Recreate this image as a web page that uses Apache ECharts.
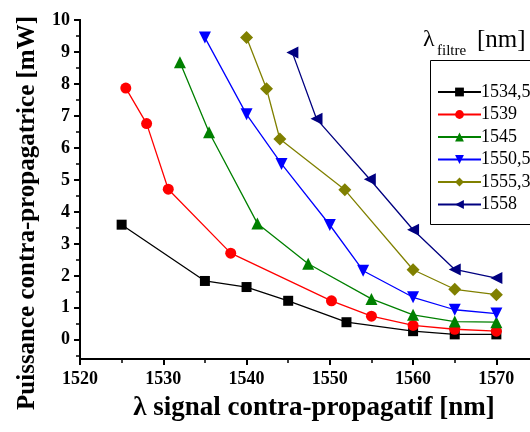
<!DOCTYPE html>
<html><head><meta charset="utf-8">
<script src="https://cdn.jsdelivr.net/npm/echarts@6/dist/echarts.min.js"></script>
<style>html,body{margin:0;padding:0;background:#fff}#c{width:530px;height:432px}</style>
</head><body><div id="c"></div>
<script>
var seriesNames = ['1534,5','1539','1545','1550,5','1555,3','1558'];
var x1534 = [1525, 1535, 1540, 1545, 1552, 1560, 1565, 1570];
var y1534 = [3.6, 1.84, 1.65, 1.22, 0.55, 0.27, 0.17, 0.17];
var x1539 = [1525.5, 1528, 1530.6, 1538.1, 1550.2, 1555, 1560, 1565, 1570];
var y1539 = [7.87, 6.76, 4.71, 2.71, 1.22, 0.74, 0.45, 0.33, 0.27];
var x1545 = [1532, 1535.5, 1541.3, 1547.4, 1555, 1560, 1565, 1570];
var y1545 = [8.68, 6.49, 3.64, 2.38, 1.28, 0.78, 0.57, 0.55];
var x1550 = [1535, 1540, 1544.2, 1550, 1554, 1560, 1565, 1570];
var y1550 = [9.45, 7.05, 5.5, 3.59, 2.16, 1.33, 0.94, 0.82];
var x1555 = [1540, 1542.4, 1544, 1551.8, 1560, 1565, 1570];
var y1555 = [9.45, 7.85, 6.28, 4.69, 2.19, 1.58, 1.41];
var x1558 = [1545.5, 1548.4, 1554.8, 1560, 1565, 1570];
var y1558 = [8.98, 6.91, 5.02, 3.44, 2.2, 1.93];
var xTicks = [1520, 1530, 1540, 1550, 1560, 1570];
var xMinorTicks = [1525, 1535, 1545, 1555, 1565];
var yTicks = [0, 1, 2, 3, 4, 5, 6, 7, 8, 9, 10];
var yMinorTicks = [-0.5, 0.5, 1.5, 2.5, 3.5, 4.5, 5.5, 6.5, 7.5, 8.5, 9.5];

var xs = [x1534, x1539, x1545, x1550, x1555, x1558];
var ys = [y1534, y1539, y1545, y1550, y1555, y1558];
var colors = ['#000000', '#ff0000', '#008000', '#0000ff', '#808000', '#000080'];
var symbols = ['rect', 'circle', 'triangle', 'triangle', 'diamond', 'triangle'];
var rotates = [0, 0, 0, 180, 0, 90];
var sizes = [10, 11, 12, 12, 13, 12];

function pairs(a, b) { return a.map(function (v, i) { return [v, b[i]]; }); }

var series = seriesNames.map(function (n, i) {
  return {
    name: n, type: 'line', data: pairs(xs[i], ys[i]),
    symbol: symbols[i], symbolSize: sizes[i], symbolRotate: rotates[i],
    showAllSymbol: true,
    lineStyle: { color: colors[i], width: 1.3 },
    itemStyle: { color: colors[i] },
    z: 3 + i
  };
});

var FONT = '"Liberation Serif", "Times New Roman", serif';
var XMIN = 1520, XMAX = 1575, YMIN = -0.6, YMAX = 10;
function majorAxis(min, max, ticks, extraLabel) {
  return {
    type: 'value', min: min, max: max,
    axisLine: { onZero: false, lineStyle: { color: '#000', width: 2 } },
    axisTick: { show: true, inside: false, length: 6, customValues: ticks, lineStyle: { width: 2, color: '#000' } },
    splitLine: { show: false },
    axisLabel: Object.assign({
      customValues: ticks,
      formatter: function (v) { return String(v); },
      fontFamily: 'Liberation Serif', fontWeight: 'bold', fontSize: 18, color: '#000'
    }, extraLabel)
  };
}
function minorAxis(min, max, ticks) {
  return {
    type: 'value', min: min, max: max,
    axisLine: { show: true, onZero: false, lineStyle: { color: '#000', width: 2 } },
    axisTick: { show: true, inside: false, length: 4, customValues: ticks, lineStyle: { width: 1.5, color: '#000' } },
    splitLine: { show: false },
    axisLabel: { show: false }
  };
}
var xMajor = majorAxis(XMIN, XMAX, xTicks, { margin: 11 });
var xMinor = minorAxis(XMIN, XMAX, xMinorTicks);
xMinor.position = 'bottom';
var yMajor = majorAxis(YMIN, YMAX, yTicks, { margin: 10 });
var yMinor = minorAxis(YMIN, YMAX, yMinorTicks);
yMinor.position = 'left';

var chart = echarts.init(document.getElementById('c'), null, { renderer: 'canvas' });
chart.setOption({
  animation: false,
  backgroundColor: '#ffffff',
  color: colors,
  grid: { left: 80, top: 20, right: -8, bottom: 73, containLabel: false, outerBoundsMode: 'none' },
  xAxis: [xMajor, xMinor],
  yAxis: [yMajor, yMinor],
  legend: {
    orient: 'vertical', left: 432, top: 78,
    itemWidth: 43, itemHeight: 11, itemGap: 4.5,
    textStyle: { fontFamily: 'Liberation Serif', fontSize: 18, color: '#000', padding: [0, 0, 0, -5], lineHeight: 18 },
    data: seriesNames
  },
  graphic: [
    { type: 'rect', shape: { x: 430.5, y: 60.5, width: 120, height: 164 },
      style: { fill: '#fff', stroke: '#000', lineWidth: 1 }, z: 1, silent: true },
    { type: 'text', x: 423, y: 40, style: { text: 'λ', font: '24px ' + FONT, fill: '#000', verticalAlign: 'middle' }, z: 10 },
    { type: 'text', x: 437, y: 51, style: { text: 'filtre', font: '15px ' + FONT, fill: '#000', verticalAlign: 'middle' }, z: 10 },
    { type: 'text', x: 477, y: 40, style: { text: '[nm]', font: '25px ' + FONT, fill: '#000', verticalAlign: 'middle' }, z: 10 },
    { type: 'text', x: 28, y: 213, rotation: Math.PI / 2,
      style: { text: 'Puissance contra-propagatrice [mW]', font: 'bold 25px ' + FONT, fill: '#000', align: 'center', verticalAlign: 'middle' }, z: 10 },
    { type: 'text', x: 314, y: 408,
      style: { text: 'λ signal contra-propagatif [nm]', font: 'bold 27px ' + FONT, fill: '#000', align: 'center', verticalAlign: 'middle' }, z: 10 }
  ],
  series: series
});
</script></body></html>
